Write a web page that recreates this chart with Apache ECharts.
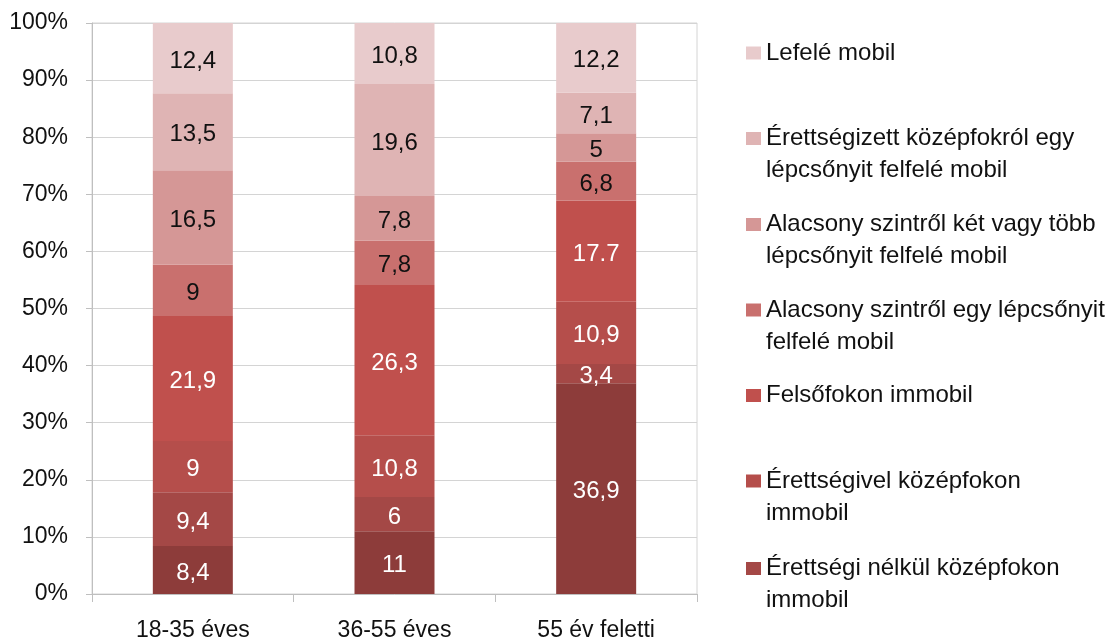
<!DOCTYPE html>
<html>
<head>
<meta charset="utf-8">
<script src="https://cdn.jsdelivr.net/npm/echarts@6/dist/echarts.min.js"></script>
<style>
html,body{margin:0;padding:0;background:#fff;}
#chart{width:1113px;height:641px;}
</style>
</head>
<body>
<div id="chart"></div>
<script>
var categories = ['18-35 éves', '36-55 éves', '55 év feletti'];
var yTicks = [0, 10, 20, 30, 40, 50, 60, 70, 80, 90, 100];

// series from bottom of stack to top
var sAlacsonyImmobil = [8.4, 11, 36.9];
var sErettsegiNelkul = [9.4, 6, 3.4];
var sErettsegivel = [9, 10.8, 10.9];
var sFelsofokon = [21.9, 26.3, 17.7];
var sAlacsonyEgy = [9, 7.8, 6.8];
var sAlacsonyKet = [16.5, 7.8, 5];
var sErettsegizett = [13.5, 19.6, 7.1];
var sLefele = [12.4, 10.8, 12.2];

var seriesNames = [
  'Alacsony szinten immobil',
  'Érettségi nélkül középfokon immobil',
  'Érettségivel középfokon immobil',
  'Felsőfokon immobil',
  'Alacsony szintről egy lépcsőnyit felfelé mobil',
  'Alacsony szintről két vagy több lépcsőnyit felfelé mobil',
  'Érettségizett középfokról egy lépcsőnyit felfelé mobil',
  'Lefelé mobil'
];
var seriesValues = [sAlacsonyImmobil, sErettsegiNelkul, sErettsegivel, sFelsofokon,
  sAlacsonyEgy, sAlacsonyKet, sErettsegizett, sLefele];

// legend entries, top to bottom, as shown in the picture
var legendNames = [
  'Lefelé mobil',
  'Érettségizett középfokról egy lépcsőnyit felfelé mobil',
  'Alacsony szintről két vagy több lépcsőnyit felfelé mobil',
  'Alacsony szintről egy lépcsőnyit felfelé mobil',
  'Felsőfokon immobil',
  'Érettségivel középfokon immobil',
  'Érettségi nélkül középfokon immobil'
];
var legendLines = [
  ['Lefelé mobil'],
  ['Érettségizett középfokról egy', 'lépcsőnyit felfelé mobil'],
  ['Alacsony szintről két vagy több', 'lépcsőnyit felfelé mobil'],
  ['Alacsony szintről egy lépcsőnyit', 'felfelé mobil'],
  ['Felsőfokon immobil'],
  ['Érettségivel középfokon', 'immobil'],
  ['Érettségi nélkül középfokon', 'immobil']
];
// labels that are printed with a point instead of a comma in the original
var dotLabels = ['Felsőfokon immobil|2'];

var colors = ['#8d3c3a', '#a44846', '#b54e4b', '#c0504d', '#c9706e', '#d59796', '#dfb4b4', '#e8cbcc'];
var labelColors = ['#fff', '#fff', '#fff', '#fff', '#111', '#111', '#111', '#111'];

var chart = echarts.init(document.getElementById('chart'), null, {renderer: 'canvas'});
var FONT = '"Liberation Sans", Arial, sans-serif';

var series = seriesNames.map(function (name, i) {
  return {
    name: name,
    type: 'bar',
    stack: 'total',
    barWidth: 80,
    data: seriesValues[i],
    itemStyle: {color: colors[i]},
    emphasis: {disabled: true},
    label: {
      show: true,
      position: 'inside',
      offset: [0, 3],
      color: labelColors[i],
      fontFamily: FONT,
      fontSize: 24,
      formatter: function (p) {
        var s = String(p.value);
        if (dotLabels.indexOf(p.seriesName + '|' + p.dataIndex) >= 0) return s;
        return s.replace('.', ',');
      }
    }
  };
});

var LH = 32;
var iconCenters = [53, 138.5, 224.5, 310, 395.5, 481, 568.5];
var legends = legendNames.map(function (name, i) {
  var lines = legendLines[i];
  var text = lines.length > 1 ? '\n' + lines.join('\n') : lines[0];
  var n = lines.length > 1 ? 3 : 1;
  return {
    data: [name],
    orient: 'vertical',
    left: 746,
    top: iconCenters[i] - n * LH / 2,
    padding: 0,
    itemWidth: 15,
    itemHeight: 13,
    icon: 'rect',
    selectedMode: false,
    formatter: function () { return text; },
    textStyle: {fontFamily: FONT, fontSize: 24, color: '#111', lineHeight: LH}
  };
});

chart.setOption({
  animation: false,
  backgroundColor: '#fff',
  grid: {left: 92, right: 416, top: 23, bottom: 47, show: true, borderColor: '#d4d4d4', borderWidth: 1,
         containLabel: false, outerBoundsMode: 'none'},
  legend: legends,
  xAxis: {
    type: 'category',
    data: categories,
    axisLine: {lineStyle: {color: '#bfbfbf', width: 1}},
    axisTick: {show: true, length: 8, lineStyle: {color: '#bfbfbf'}},
    axisLabel: {color: '#111', fontFamily: FONT, fontSize: 23, margin: 25}
  },
  yAxis: {
    type: 'value',
    min: yTicks[0],
    max: yTicks[yTicks.length - 1],
    interval: 10,
    axisLine: {show: true, lineStyle: {color: '#bfbfbf', width: 1}},
    axisTick: {show: true, length: 6, lineStyle: {color: '#bfbfbf'}},
    axisLabel: {color: '#111', fontFamily: FONT, fontSize: 23, margin: 24, formatter: '{value}%'},
    splitLine: {show: true, lineStyle: {color: '#d4d4d4', width: 1}}
  },
  series: series
});
</script>
</body>
</html>
